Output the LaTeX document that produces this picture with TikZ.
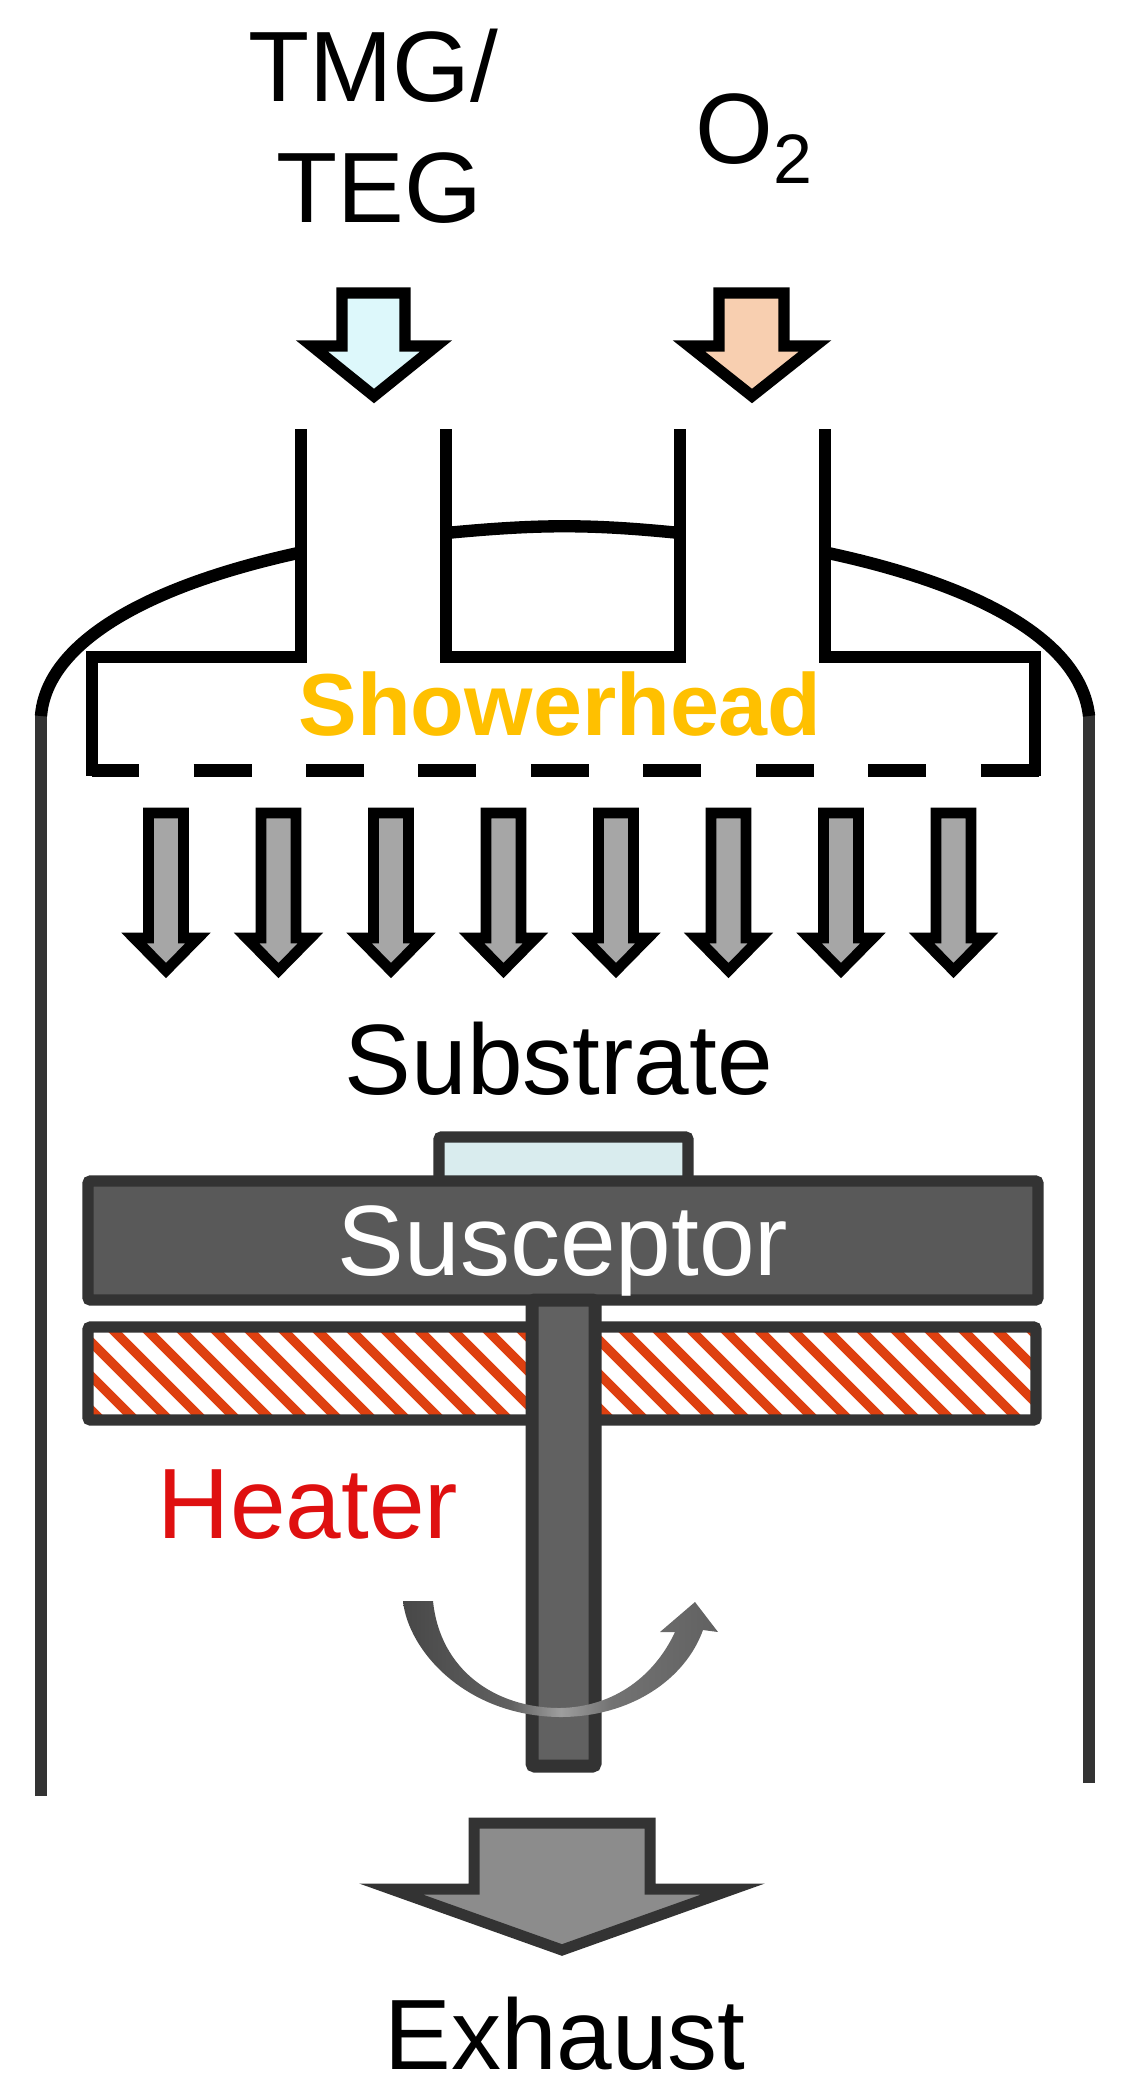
\documentclass[tikz,border=0pt]{standalone}
\usepackage{fontspec}
\setmainfont{Liberation Sans}
\usepackage{tikz}
\definecolor{inkgray}{HTML}{333333}
\definecolor{showercol}{HTML}{FFC000}
\definecolor{heatercol}{HTML}{DF1010}
\definecolor{stripecol}{HTML}{DE4010}
\definecolor{wafercol}{HTML}{D9ECEE}
\definecolor{tmgcol}{HTML}{DDF8FB}
\definecolor{oxycol}{HTML}{F8CFB0}
\pgfdeclarehorizontalshading{rotfade}{100bp}{color(0bp)=(black!72); color(25bp)=(black!72); color(42bp)=(black!62); color(50bp)=(black!38); color(58bp)=(black!55); color(75bp)=(black!62); color(100bp)=(black!62)}
\newcommand{\lblfont}{\fontsize{30}{36.3}\selectfont}

\begin{document}
\begin{tikzpicture}[
			x=.3pt, y=-.3pt
			,lbl/.style={inner sep=0, anchor=base, font=\lblfont}
			,tube/.style={draw=black, line width=3.7pt, line cap=butt, miter limit=10}
			,wall/.style={draw=inkgray, line width=3.8pt}
			,inflow/.style={draw=black, line width=3.4pt, miter limit=10}
			,showerflow/.style={draw=black, line width=3.2pt, fill=black!35, miter limit=10}
			,part/.style={draw=inkgray, line width=3.4pt, rounded corners=.8pt}
		]
			\useasboundingbox (0,0) rectangle (1125,2096);

			% chamber
			\draw[wall] (41,1796) -- (41,714);
			\draw[wall] (1089,1783) -- (1089,714);
			\draw[tube] (41,716) .. controls (46,650) and (130,590) .. (298,553);
			\draw[tube] (1089,716) .. controls (1082,650) and (1000,590) .. (828,553);

			% inlets and showerhead
			\draw[tube] (301,429) -- (301,657) -- (92,657) -- (92,776);
			\draw[tube] (446,429) -- (446,657) -- (680,657) -- (680,429);
			\draw[tube] (825,429) -- (825,657) -- (1035,657) -- (1035,776);
			\draw[tube] (446,533) .. controls (540,524) and (590,524) .. (680,533);
			\draw[tube, line width=3.9pt, dash pattern=on 17.4pt off 16.35pt, dash phase=3.3pt] (92,770.5) -- (1041,770.5);

			% gas inlets
			\draw[inflow, fill=tmgcol] (342,293) -- (405,293) -- (405,346) -- (436,346) -- (374,396) -- (312,346) -- (342,346) -- cycle;
			\draw[inflow, fill=oxycol] (719,293) -- (784,293) -- (784,346) -- (815,346) -- (752,396) -- (689,346) -- (719,346) -- cycle;

			% flow out of the showerhead
			\foreach \x in {166,278.5,391,503.5,616,728.5,841,953.5}
				\draw[showerflow] ({\x-17.5},813) -- ({\x+17.5},813) -- ({\x+17.5},938) -- ({\x+32},938) -- (\x,970.5) -- ({\x-32},938) -- ({\x-17.5},938) -- cycle;

			% heater
			\begin{scope}
				\clip (88,1327) rectangle (1036,1420);
				\fill[white] (88,1327) rectangle (1036,1420);
				\foreach \x in {8,42,...,1042}
					\draw[stripecol, line width=2.8pt] (\x,1327) -- ({\x+93},1420);
			\end{scope}
			\draw[part] (88,1327) rectangle (1036,1420);

			% substrate, susceptor, shaft
			\draw[part, fill=wafercol] (439,1137) rectangle (688,1182);
			\draw[part, fill=black!65] (88,1181) rectangle (1038,1300);
			\draw[part, line width=3.9pt, fill=black!62] (532,1300) rectangle (595,1766);

			% rotation
			\shade[shading=rotfade] (403,1601) .. controls (408,1650) and (465,1716) .. (560,1717)
				.. controls (630,1717) and (685,1680) .. (703,1630) -- (718,1632) -- (695,1602) -- (660,1632) -- (675,1632)
				.. controls (655,1675) and (615,1707) .. (560,1708)
				.. controls (495,1708) and (440,1670) .. (433,1601) -- cycle;

			% exhaust
			\draw[draw=inkgray, line width=3.3pt, fill=black!45, miter limit=10] (474,1823) -- (650,1823) -- (650,1889) -- (733,1889) -- (562,1950) -- (391,1889) -- (474,1889) -- cycle;

			% labels
			\node[lbl, align=center] (inletA) at (373,222) {TMG/\\\hspace*{.12em}TEG};
			\node[lbl, anchor=base west] (inletB) at (695,163) {O\textsubscript{\raisebox{-1.6pt}{2}}};
			\node[lbl, text=showercol, font=\fontsize{26.4}{30}\selectfont\bfseries] (shower) at (560,735) {Showerhead};
			\node[lbl] (substrate) at (559,1094) {Substrate};
			\node[lbl, text=white] (susceptor) at (563,1275) {Susceptor};
			\node[lbl, text=heatercol] (heater) at (308,1538) {Heater};
			\node[lbl] (exhaust) at (565,2069) {Exhaust};
		\end{tikzpicture}
\end{document}
